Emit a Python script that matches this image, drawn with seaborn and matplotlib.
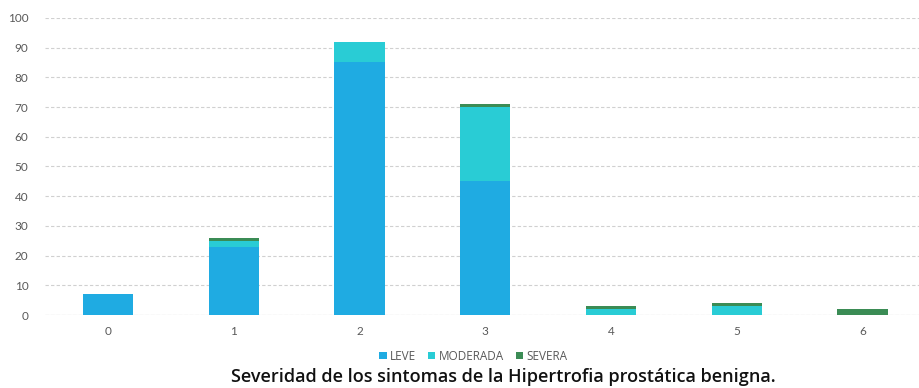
import numpy as np
import pandas as pd
import seaborn as sns
import matplotlib
matplotlib.use("Agg")
import matplotlib.pyplot as plt
from matplotlib.patches import Patch

categories = ["0", "1", "2", "3", "4", "5", "6"]
leve = [7, 23, 85, 45, 0, 0, 0]
moderada = [0, 2, 7, 25, 2, 3, 0]
severa = [0, 1, 0, 1, 1, 1, 2]
series_names = ["LEVE", "MODERADA", "SEVERA"]
colors = ["#1FABE2", "#29CCD5", "#3B8C55"]
title = "Severidad de los sintomas de la Hipertrofia prostática benigna."

sns.set_theme(style="white")
plt.rcParams["font.family"] = ["Lato", "DejaVu Sans"]

fig = plt.figure(figsize=(9.19, 3.88), dpi=100)
ax = fig.add_axes([0.049, 0.188, 0.951, 0.766])

df = pd.DataFrame({"cat": categories, "LEVE": leve,
                   "MODERADA": moderada, "SEVERA": severa})
bottom = np.zeros(len(categories))
for name, col in zip(series_names, colors):
    sns.barplot(data=df, x="cat", y=name, order=categories, color=col,
                width=0.4, bottom=bottom, ax=ax, saturation=1,
                edgecolor="none", linewidth=0, zorder=3)
    bottom = bottom + df[name].to_numpy()

ax.set_ylim(0, 100)
ax.set_yticks(range(0, 101, 10))
ax.set_xlim(-0.5, 6.45)
ax.set_xlabel("")
ax.set_ylabel("")
ax.yaxis.grid(True, color="#d0d0d0", linestyle=(0, (3, 2)), linewidth=0.8, zorder=0)
ax.xaxis.grid(False)
for s in ax.spines.values():
    s.set_visible(False)
ax.axhline(0, color="#d0d0d0", linewidth=0.8, zorder=1)
ax.tick_params(axis="both", length=0, labelsize=8.5, labelcolor="#595959")
ax.tick_params(axis="x", pad=8)
ax.tick_params(axis="y", pad=12)

handles = [Patch(facecolor=c, edgecolor="none") for c in colors]
fig.legend(handles, series_names, loc="center", bbox_to_anchor=(0.515, 0.082),
           ncol=3, frameon=False, fontsize=8.5, handlelength=0.6, handleheight=0.6,
           handletextpad=0.3, columnspacing=1.0, labelcolor="#595959",
           prop={"family": "Open Sans", "size": 8.5})
fig.text(0.548, 0.028, title, ha="center", va="center", fontsize=13,
         color="#111111", family="Open Sans", fontweight="semibold")

fig.savefig("out.png", dpi=100)
